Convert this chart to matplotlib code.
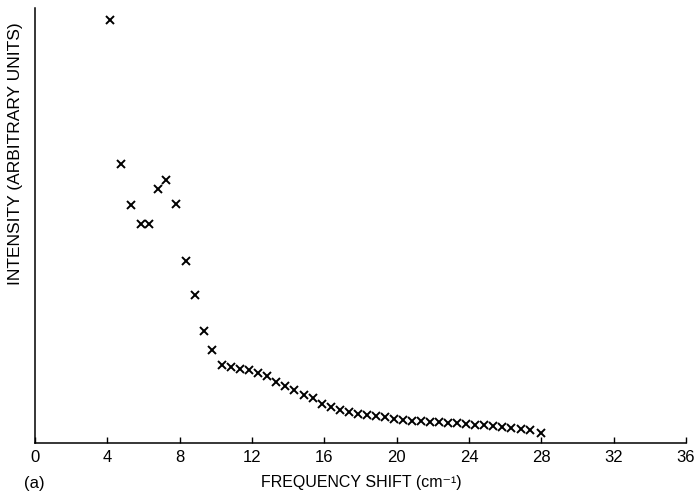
import numpy as np
import matplotlib
matplotlib.use('Agg')
import matplotlib.pyplot as plt

#
# points (intensity in arbitrary units, top of axis = 100)
#
shift = [4.15, 4.75, 5.3, 5.85, 6.3, 6.8, 7.25, 7.8, 8.35, 8.85, 9.35, 9.8,
         10.35, 10.85, 11.35, 11.85, 12.35, 12.85, 13.35, 13.85, 14.35, 14.85,
         15.35, 15.85, 16.35, 16.85, 17.35, 17.85, 18.35, 18.85, 19.35, 19.85,
         20.35, 20.85, 21.35, 21.85, 22.35, 22.85, 23.35, 23.85, 24.35, 24.85,
         25.35, 25.85, 26.35, 26.85, 27.35, 28.0]
intensity = [97.2, 64.1, 54.7, 50.3, 50.3, 58.4, 60.5, 55.0, 41.8, 34.0, 25.7, 21.4,
             17.9, 17.5, 17.0, 16.8, 16.1, 15.4, 14.0, 13.1, 12.2, 11.0,
             10.3, 9.0, 8.3, 7.6, 7.1, 6.7, 6.4, 6.2, 6.0, 5.5,
             5.3, 5.1, 5.1, 4.8, 4.8, 4.6, 4.6, 4.4, 4.1, 4.1,
             3.9, 3.7, 3.4, 3.2, 3.0, 2.3]
xticks = [0, 4, 8, 12, 16, 20, 24, 28, 32, 36]

plt.rcParams['font.family'] = ['Liberation Sans', 'DejaVu Sans']

fig = plt.figure(figsize=(6.95, 4.96), dpi=100)
ax = fig.add_axes([0.0504, 0.1069, 0.9366, 0.877])
ax.plot(shift, intensity, 'x', color='black', markersize=6, markeredgewidth=1.4)

ax.set_xlim(0, 36)
ax.set_ylim(0, 100)
ax.set_xticks(xticks)
ax.set_yticks([])
ax.tick_params(axis='x', direction='in', length=4, width=1, labelsize=12, pad=5)
ax.spines['top'].set_visible(False)
ax.spines['right'].set_visible(False)
ax.spines['left'].set_linewidth(1.1)
ax.spines['bottom'].set_linewidth(1.1)

fig.text(0.52, 0.028, 'FREQUENCY SHIFT (cm\u207b\u00b9)', ha='center', va='center', fontsize=11.5)
fig.text(0.05, 0.026, '(a)', ha='center', va='center', fontsize=12)
fig.text(0.022, 0.69, 'INTENSITY (ARBITRARY UNITS)', ha='center', va='center',
         rotation=90, fontsize=12.5)

fig.savefig('out.png', dpi=100)
